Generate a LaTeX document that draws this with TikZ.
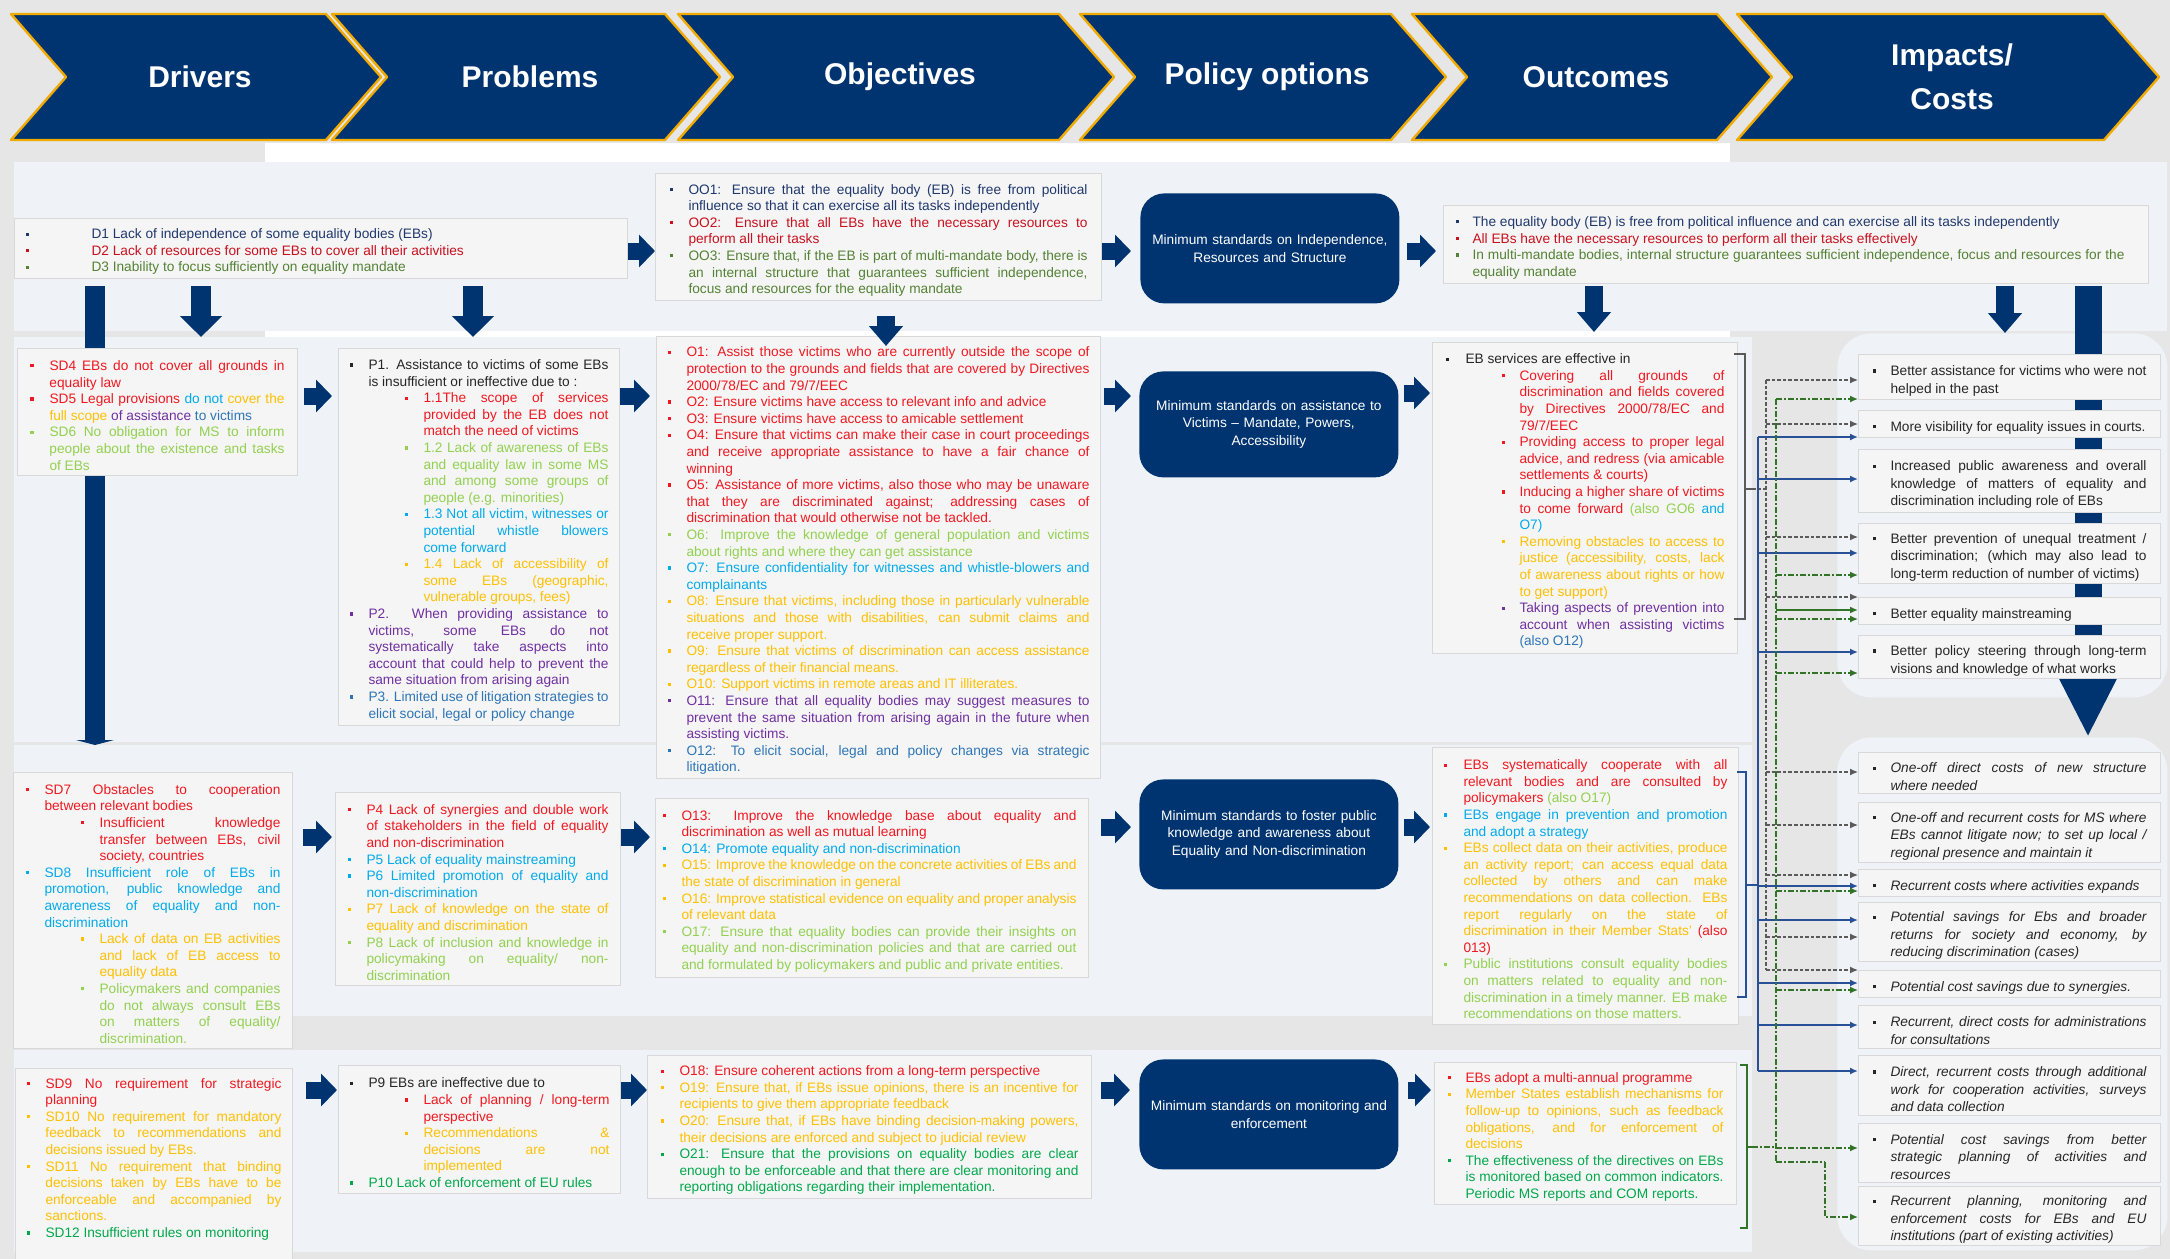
\documentclass[tikz,border=0pt]{standalone}
\usepackage{fontspec}
\setmainfont{Liberation Sans}
\usepackage{enumitem}
\usetikzlibrary{arrows.meta}

\definecolor{navy}{RGB}{0,52,112}
\definecolor{gold}{RGB}{240,170,0}
\definecolor{bggrey}{RGB}{230,230,230}
\definecolor{panelcol}{RGB}{239,243,248}
\definecolor{boxfill}{RGB}{245,245,245}
\definecolor{boxline}{RGB}{216,216,216}
\definecolor{txtgrey}{RGB}{38,38,38}
\definecolor{cDB}{RGB}{31,56,110}
\definecolor{cDR}{RGB}{200,16,30}
\definecolor{cOG}{RGB}{84,130,53}
\definecolor{cRed}{RGB}{240,24,32}
\definecolor{cLG}{RGB}{146,208,80}
\definecolor{cCy}{RGB}{0,170,235}
\definecolor{cGo}{RGB}{255,192,0}
\definecolor{cPu}{RGB}{112,48,160}
\definecolor{cMB}{RGB}{46,117,182}
\definecolor{cGr}{RGB}{0,168,75}
\definecolor{gline}{RGB}{90,90,90}
\definecolor{bline}{RGB}{40,80,150}
\definecolor{grline}{RGB}{50,115,40}

\newcommand\boxfont{\fontsize{6.85}{8.3}\selectfont}
\newcommand\polfont{\fontsize{6.85}{8.7}\selectfont}
\newcommand\impfont{\fontsize{6.85}{8.8}\selectfont}
\newcommand\bsq{\raisebox{0.22em}{\rule{1.6pt}{1.6pt}}}
\newcommand\bitem[2]{\item[\textcolor{#1}{\bsq}]\textcolor{#1}{#2}}
\newcommand\ib[1]{\begin{itemize}[leftmargin=9pt]\item #1\end{itemize}}
\setlist[itemize]{nosep, label=\bsq, labelindent=0pt, labelwidth=1.6pt, labelsep=*, align=left, leftmargin=9.5pt}
\hyphenpenalty=10000
\tolerance=9999
\hbadness=10000
\emergencystretch=1em

\tikzset{
  tbox/.style={draw=boxline, line width=0.5pt, fill=boxfill, anchor=north west,
    inner ysep=0pt, align=justify, font=\boxfont, text=txtgrey},
  polbox/.style={fill=navy, rounded corners=12pt, anchor=north west, inner sep=0pt,
    minimum width=129.5pt, minimum height=55pt, text width=125pt, align=center,
    font=\polfont, text=white},
  imp/.style={draw=boxline, line width=0.5pt, fill=boxfill, anchor=north west,
    inner xsep=7pt, inner ysep=0pt, text width=137pt, align=justify,
    font=\impfont, text=txtgrey},
  ipanel/.style={fill=panelcol, rounded corners=17pt, anchor=north west,
    inner sep=0pt, minimum width=165pt},
  chev/.style={fill=navy, draw=gold, line width=1.2pt, line join=round},
  chevtxt/.style={text=white, font=\fontsize{15}{22}\selectfont\bfseries, align=center},
  rarrow/.style={navy, line width=8.5pt, -{Triangle[length=8pt,width=16pt]}},
  darrow/.style={navy, line width=10pt, -{Triangle[length=10.5pt,width=20.5pt]}},
  sarrow/.style={navy, line width=9pt, -{Triangle[length=10pt,width=16.5pt]}},
  arr/.style={-{Latex[length=4pt,width=3.5pt]}},
  gdash/.style={draw=gline, line width=0.6pt, dash pattern=on 1.8pt off 1pt},
  bsolid/.style={draw=bline, line width=0.9pt},
  gdot/.style={draw=grline, line width=0.7pt, dash pattern=on 3pt off 1.2pt on 0.6pt off 1.2pt},
}

\begin{document}
\begin{tikzpicture}[x=0.5pt,y=-0.5pt]
\useasboundingbox (0,0) rectangle (2170,1259);
% background and panels
\fill[bggrey] (0,0) rectangle (2170,1259);
\fill[white] (265,143) rectangle (1730,162);
\fill[panelcol] (14,162) rectangle (2167,331);
\fill[white] (265,331) rectangle (1730,337);
\fill[panelcol] (14,337) rectangle (1752,742);
\fill[panelcol] (14,745) rectangle (1752,1016);
\fill[panelcol] (14,1050) rectangle (1752,1252);
\node[ipanel, minimum height=182pt] (ipan1) at (1837,333) {};
\node[ipanel, minimum height=256.5pt] (ipan2) at (1837,737) {};

% header chevrons
\foreach \xa/\xb/\lab [count=\i] in {11/381/Drivers, 332/720/Problems, 678/1114/Objectives,
    1080/1446/Policy options, 1412/1772/Outcomes, 1737/2159/{Impacts/\\Costs}}{
  \draw[chev] (\xa,14) -- ({\xb-55},14) -- (\xb,77) -- ({\xb-55},140) -- (\xa,140) -- ({\xa+55},77) -- cycle;
  \node[chevtxt] (h\i) at ({(\xa+\xb)/2+4},77) {\lab};
}

% row 1
\node[tbox, inner xsep=5.5pt, text width=295.5pt, minimum height=30pt] (bD) at (14,218) {%
  \begin{itemize}[leftmargin=33pt]
  \bitem{cDB}{D1 Lack of independence of some equality bodies (EBs)}
  \bitem{cDR}{D2 Lack of resources for some EBs to cover all their activities}
  \bitem{cOG}{D3 Inability to focus sufficiently on equality mandate}
  \end{itemize}};
\node[tbox, inner xsep=7pt, text width=209pt, minimum height=63.5pt] (bOO) at (655,173) {%
  \begin{itemize}
  \bitem{cDB}{OO1: Ensure that the equality body (EB) is free from political influence so that it can exercise all its tasks independently}
  \bitem{cDR}{OO2: Ensure that all EBs have the necessary resources to\linebreak perform all their tasks}
  \bitem{cOG}{OO3: Ensure that, if the EB is part of multi-mandate body, there is\linebreak an internal structure that guarantees sufficient independence, focus and resources for the equality mandate}
  \end{itemize}};
\node[polbox] (pol1) at (1140,193) {Minimum standards on Independence,\\Resources and Structure};
\node[tbox, inner xsep=6pt, text width=340.5pt, minimum height=39pt] (bOut1) at (1443,205) {%
  \begin{itemize}[leftmargin=8.5pt, rightmargin=6pt]
  \bitem{cDB}{The equality body (EB) is free from political influence and can exercise all its tasks independently}
  \bitem{cDR}{All EBs have the necessary resources to perform all their tasks effectively}
  \bitem{cOG}{In multi-mandate bodies, internal structure guarantees sufficient independence, focus and resources for the equality mandate}
  \end{itemize}};

% long bars behind the boxes
\coordinate (lb) at (95,745);
\coordinate (rb) at (2088,0);
\draw[navy, line width=10pt, -{Triangle[length=2.5pt,width=19pt]}, shorten <=3.5pt] (bD.south -| lb) -- (lb);
\draw[navy, line width=13.5pt, -{Triangle[length=29pt,width=26.5pt]}, shorten <=1pt] (bOut1.south -| rb) -- (ipan2.north -| rb);

% row 2
\node[tbox, inner xsep=6.5pt, text width=127pt, minimum height=63.5pt] (bSD4) at (17,348) {%
  \begin{itemize}
  \bitem{cRed}{SD4 EBs do not cover all grounds in equality law}
  \item[\textcolor{cRed}{\bsq}]\textcolor{cRed}{SD5 Legal provisions} \textcolor{cCy}{do not} \textcolor{cGo}{cover the full scope} \textcolor{cPu}{of assistance} \textcolor{cMB}{to victims}
  \bitem{cLG}{SD6 No obligation for MS to inform people about the existence and tasks of EBs}
  \end{itemize}};
\node[tbox, inner xsep=5.5pt, text width=129.5pt, minimum height=188.5pt] (bP) at (338,348) {%
  \begin{itemize}
  \bitem{txtgrey}{P1. Assistance to victims of some EBs is insufficient or ineffective due to :}
    \begin{itemize}[labelindent=18pt, leftmargin=27.5pt]
    \bitem{cRed}{1.1The scope of services provided by the EB does not match the need of victims}
    \bitem{cLG}{1.2 Lack of awareness of EBs and equality law in some MS and among some groups of people (e.g. minorities)}
    \bitem{cCy}{1.3 Not all victim, witnesses or\linebreak potential whistle blowers\linebreak come forward}
    \bitem{cGo}{1.4 Lack of accessibility of\linebreak some EBs (geographic, vulnerable groups, fees)}
    \end{itemize}
  \bitem{cPu}{P2. When providing assistance to\linebreak victims, some EBs do not\linebreak systematically take aspects into account that could help to prevent the same situation from arising again}
  \bitem{cMB}{P3. Limited use of litigation strategies to elicit social, legal or policy change}
  \end{itemize}};
\node[tbox, inner xsep=5.5pt, text width=211pt, minimum height=221pt] (bO) at (656,336) {%
  \begin{itemize}
  \bitem{cRed}{O1: Assist those victims who are currently outside the scope of protection to the grounds and fields that are covered by Directives 2000/78/EC and 79/7/EEC}
  \bitem{cRed}{O2: Ensure victims have access to relevant info and advice}
  \bitem{cRed}{O3: Ensure victims have access to amicable settlement}
  \bitem{cRed}{O4: Ensure that victims can make their case in court proceedings and receive appropriate assistance to have a fair chance of\linebreak winning}
  \bitem{cRed}{O5: Assistance of more victims, also those who may be unaware\linebreak that they are discriminated against; addressing cases of discrimination that would otherwise not be tackled.}
  \bitem{cLG}{O6: Improve the knowledge of general population and victims\linebreak about rights and where they can get assistance}
  \bitem{cCy}{O7: Ensure confidentiality for witnesses and whistle-blowers and complainants}
  \bitem{cGo}{O8: Ensure that victims, including those in particularly vulnerable situations and those with disabilities, can submit claims and\linebreak receive proper support.}
  \bitem{cGo}{O9: Ensure that victims of discrimination can access assistance regardless of their financial means.}
  \bitem{cGo}{O10: Support victims in remote areas and IT illiterates.}
  \bitem{cPu}{O11: Ensure that all equality bodies may suggest measures to prevent the same situation from arising again in the future when assisting victims.}
  \bitem{cMB}{O12: To elicit social, legal and policy changes via strategic\linebreak litigation.}
  \end{itemize}};
\node[polbox, minimum height=53pt] (pol2) at (1139,371) {Minimum standards on assistance to\\Victims -- Mandate, Powers,\\Accessibility};
\node[tbox, inner xsep=6.5pt, text width=139.5pt, minimum height=155.5pt] (bOut2) at (1432,342) {%
  \begin{itemize}[leftmargin=10pt]
  \bitem{txtgrey}{EB services are effective in}
    \begin{itemize}[labelindent=18pt, leftmargin=27pt]
    \bitem{cRed}{Covering all grounds of discrimination and fields covered by Directives 2000/78/EC and 79/7/EEC}
    \bitem{cRed}{Providing access to proper legal advice, and redress (via amicable settlements \& courts)}
    \item[\textcolor{cRed}{\bsq}]\textcolor{cRed}{Inducing a higher share of victims to come forward} \textcolor{cLG}{(also GO6} \textcolor{cCy}{and O7)}
    \bitem{cGo}{Removing obstacles to access to justice (accessibility, costs, lack\linebreak of awareness about rights or how\linebreak to get support)}
    \item[\textcolor{cPu}{\bsq}]\textcolor{cPu}{Taking aspects of prevention into account when assisting victims} \textcolor{cMB}{(also O12)}
    \end{itemize}
  \end{itemize}};

% row 3
\node[tbox, inner xsep=6pt, text width=127.5pt, minimum height=138pt] (bSD7) at (13,772) {%
  \begin{itemize}
  \bitem{cRed}{SD7 Obstacles to cooperation\linebreak between relevant bodies}
    \begin{itemize}[labelindent=18pt, leftmargin=27.5pt]
    \bitem{cRed}{Insufficient knowledge transfer between EBs, civil society, countries}
    \end{itemize}
  \bitem{cCy}{SD8 Insufficient role of EBs in promotion, public knowledge and awareness of equality and non-discrimination}
    \begin{itemize}[labelindent=18pt, leftmargin=27.5pt]
    \bitem{cGo}{Lack of data on EB activities and lack of EB access to equality data}
    \bitem{cLG}{Policymakers and companies do not always consult EBs on matters of equality/ discrimination.}
    \end{itemize}
  \end{itemize}};
\node[tbox, inner xsep=6pt, text width=130.5pt, minimum height=96.5pt] (bP4) at (335,792) {%
  \begin{itemize}
  \bitem{cRed}{P4 Lack of synergies and double work\linebreak of stakeholders in the field of equality and non-discrimination}
  \bitem{cCy}{P5 Lack of equality mainstreaming}
  \bitem{cCy}{P6 Limited promotion of equality and non-discrimination}
  \bitem{cGo}{P7 Lack of knowledge on the state of equality and discrimination}
  \bitem{cLG}{P8 Lack of inclusion and knowledge in\linebreak policymaking on equality/ non-discrimination}
  \end{itemize}};
\node[tbox, inner xsep=3.5pt, text width=209.5pt, minimum height=89.5pt] (bO13) at (655,798) {%
  \begin{itemize}[rightmargin=2.5pt]
  \bitem{cRed}{O13: Improve the knowledge base about equality and discrimination as well as mutual learning}
  \bitem{cCy}{O14: Promote equality and non-discrimination}
  \bitem{cGo}{O15: Improve the knowledge on the concrete activities of EBs and the state of discrimination in general}
  \bitem{cGo}{O16: Improve statistical evidence on equality and proper analysis of relevant data}
  \bitem{cLG}{O17: Ensure that equality bodies can provide their insights on equality and non-discrimination policies and that are carried out and formulated by policymakers and public and private entities.}
  \end{itemize}};
\node[polbox] (pol3) at (1139,779) {Minimum standards to foster public\\knowledge and awareness about\\Equality and Non-discrimination};
\node[tbox, inner xsep=5.5pt, text width=142pt, minimum height=138.5pt] (bOut3) at (1432,747) {%
  \begin{itemize}[leftmargin=10pt]
  \item[\textcolor{cRed}{\bsq}]\textcolor{cRed}{EBs systematically cooperate with all relevant bodies and are consulted by policymakers} \textcolor{cLG}{(also O17)}
  \bitem{cCy}{EBs engage in prevention and promotion and adopt a strategy}
  \item[\textcolor{cGo}{\bsq}]\textcolor{cGo}{EBs collect data on their activities, produce an activity report; can access equal data\linebreak collected by others and can make\linebreak recommendations on data collection. EBs\linebreak report regularly on the state of\linebreak discrimination in their Member Stats'} \textcolor{cRed}{(also\linebreak 013)}
  \bitem{cLG}{Public institutions consult equality bodies on matters related to equality and non-discrimination in a timely manner. EB make recommendations on those matters.}
  \end{itemize}};

% row 4
\node[tbox, inner xsep=5.5pt, text width=127.5pt, minimum height=95.5pt] (bSD9) at (15,1068) {%
  \begin{itemize}
  \bitem{cRed}{SD9 No requirement for strategic planning}
  \bitem{cGo}{SD10 No requirement for mandatory feedback to recommendations and decisions issued by EBs.}
  \bitem{cGo}{SD11 No requirement that binding decisions taken by EBs have to be enforceable and accompanied by sanctions.}
  \bitem{cGr}{SD12 Insufficient rules on monitoring}
  \end{itemize}\vspace*{8pt}};
\node[tbox, inner xsep=5.5pt, text width=130pt, minimum height=64pt] (bP9) at (338,1065) {%
  \begin{itemize}
  \bitem{txtgrey}{P9 EBs are ineffective due to}
    \begin{itemize}[labelindent=18pt, leftmargin=27.5pt]
    \bitem{cRed}{Lack of planning / long-term perspective}
    \bitem{cGo}{Recommendations \&\linebreak decisions are not\linebreak implemented}
    \end{itemize}
  \bitem{cGr}{P10 Lack of enforcement of EU rules}
  \end{itemize}};
\node[tbox, inner xsep=6.5pt, text width=209pt, minimum height=71.5pt] (bO18) at (647,1055) {%
  \begin{itemize}
  \bitem{cRed}{O18: Ensure coherent actions from a long-term perspective}
  \bitem{cGo}{O19: Ensure that, if EBs issue opinions, there is an incentive for recipients to give them appropriate feedback}
  \bitem{cGo}{O20: Ensure that, if EBs have binding decision-making powers, their decisions are enforced and subject to judicial review}
  \bitem{cGr}{O21: Ensure that the provisions on equality bodies are clear enough to be enforceable and that there are clear monitoring and reporting obligations regarding their implementation.}
  \end{itemize}};
\node[polbox] (pol4) at (1139,1059) {Minimum standards on monitoring and\\enforcement};
\node[tbox, inner xsep=6.5pt, text width=138pt, minimum height=71pt] (bOut4) at (1434,1062) {%
  \begin{itemize}[leftmargin=9pt]
  \bitem{cRed}{EBs adopt a multi-annual programme}
  \bitem{cGo}{Member States establish mechanisms for follow-up to opinions, such as feedback obligations, and for enforcement of decisions}
  \bitem{cGr}{The effectiveness of the directives on EBs is monitored based on common indicators. Periodic MS reports and COM reports.}
  \end{itemize}};

% impacts / costs
\node[imp, minimum height=22.5pt] (iA) at (1858,354) {\ib{Better assistance for victims who were not helped in the past}};
\node[imp, minimum height=13.5pt] (iB) at (1858,410) {\ib{More visibility for equality issues in courts.}};
\node[imp, minimum height=31.5pt] (iC) at (1858,449) {\ib{Increased public awareness and overall knowledge of matters of equality and discrimination including role of EBs}};
\node[imp, minimum height=30pt] (iD) at (1858,523) {\ib{Better prevention of unequal treatment / discrimination; (which may also lead to long-term reduction of number of victims)}};
\node[imp, minimum height=13.5pt] (iE) at (1858,597) {\ib{Better equality mainstreaming}};
\node[imp, minimum height=21.5pt] (iF) at (1858,635) {\ib{Better policy steering through long-term visions and knowledge of what works}};
\node[imp, minimum height=20.5pt] (iG) at (1858,752) {\ib{\itshape One-off direct costs of new structure\linebreak where needed}};
\node[imp, minimum height=30pt] (iH) at (1858,802) {\ib{\itshape One-off and recurrent costs for MS where EBs cannot litigate now; to set up local / regional presence and maintain it}};
\node[imp, minimum height=13.5pt] (iI) at (1858,869) {\ib{\itshape Recurrent costs where activities expands}};
\node[imp, minimum height=29.5pt] (iJ) at (1858,902) {\ib{\itshape Potential savings for Ebs and broader returns for society and economy, by reducing discrimination (cases)}};
\node[imp, minimum height=13.5pt] (iK) at (1858,970) {\ib{\itshape Potential cost savings due to synergies.}};
\node[imp, minimum height=21.5pt] (iL) at (1858,1005) {\ib{\itshape Recurrent, direct costs for administrations for consultations}};
\node[imp, minimum height=30pt] (iM) at (1858,1055) {\ib{\itshape Direct, recurrent costs through additional work for cooperation activities, surveys\linebreak and data collection}};
\node[imp, minimum height=29.5pt] (iN) at (1858,1123) {\ib{\itshape Potential cost savings from better\linebreak strategic planning of activities and\linebreak resources}};
\node[imp, minimum height=29.5pt] (iO) at (1858,1186) {\ib{\itshape Recurrent planning, monitoring and enforcement costs for EBs and EU institutions (part of existing activities)}};

% block arrows between columns
\coordinate (r1) at (0,251);
\coordinate (r2) at (0,396);
\coordinate (r2b) at (0,393);
\coordinate (r3) at (0,837);
\coordinate (r3b) at (0,827);
\coordinate (r4) at (0,1090);
\draw[rarrow] (bD.east |- r1) -- (bOO.west |- r1);
\draw[rarrow, shorten >=4.5pt] (bOO.east |- r1) -- (pol1.west |- r1);
\draw[rarrow, shorten <=3.5pt, shorten >=3.5pt] (pol1.east |- r1) -- (bOut1.west |- r1);
\draw[rarrow, shorten <=3pt, shorten >=3pt] (bSD4.east |- r2) -- (bP.west |- r2);
\draw[rarrow, shorten >=3pt] (bP.east |- r2) -- (bO.west |- r2);
\draw[rarrow, shorten <=1.5pt, shorten >=4pt] (bO.east |- r2) -- (pol2.west |- r2);
\draw[rarrow, shorten <=2.5pt, shorten >=1pt] (pol2.east |- r2b) -- (bOut2.west |- r2b);
\draw[rarrow, shorten <=5pt, shorten >=1.5pt] (bSD7.east |- r3) -- (bP4.west |- r3);
\draw[rarrow, shorten >=2.5pt] (bP4.east |- r3) -- (bO13.west |- r3);
\draw[rarrow, shorten <=6pt, shorten >=4pt] (bO13.east |- r3b) -- (pol3.west |- r3b);
\draw[rarrow, shorten <=2.5pt, shorten >=1pt] (pol3.east |- r3b) -- (bOut3.west |- r3b);
\draw[rarrow, shorten <=6.5pt, shorten >=0.5pt] (bSD9.east |- r4) -- (bP9.west |- r4);
\draw[rarrow] (bP9.east |- r4) -- (bO18.west |- r4);
\draw[rarrow, shorten <=4.5pt, shorten >=4.5pt] (bO18.east |- r4) -- (pol4.west |- r4);
\draw[rarrow, shorten <=4.5pt, shorten >=1.5pt] (pol4.east |- r4) -- (bOut4.west |- r4);

% downward arrows
\coordinate (c1) at (201,0);
\coordinate (c2) at (473,0);
\coordinate (c3) at (886,0);
\coordinate (c4) at (1594,0);
\coordinate (c5) at (2005,0);
\draw[darrow, shorten <=3.5pt, shorten >=5.5pt] (bD.south -| c1) -- (bSD4.north -| c1);
\draw[darrow, shorten <=3.5pt, shorten >=5.5pt] (bD.south -| c2) -- (bP.north -| c2);
\draw[sarrow, shorten <=7.5pt, shorten >=-5pt] (bOO.south -| c3) -- (bO.north -| c3);
\draw[sarrow, shorten <=1pt, shorten >=5pt] (bOut1.south -| c4) -- (bOut2.north -| c4);
\draw[sarrow, shorten <=1pt] (bOut1.south -| c5) -- (ipan1.north -| c5);

% brackets of the outcomes
\draw[gline, line width=0.6pt] (1734,354) -- (1745,354) -- (1745,619) -- (1734,619) (1745,489) -- (1752,489);
\draw[bline, line width=0.6pt] (1737,772) -- (1746,772) -- (1746,997) -- (1737,997) (1746,885) -- (1752,885);
\draw[grline, line width=0.6pt] (1740,1065) -- (1747,1065) -- (1747,1228) -- (1740,1228) (1747,1147) -- (1752,1147);
\coordinate (br2) at (1752,489);
\coordinate (br3) at (1752,885);
\coordinate (br4) at (1752,1147);
\coordinate (tB) at (1758,0);
\coordinate (tG) at (1766,0);
\coordinate (tN) at (1776,0);

% links outcomes -> impacts
\draw[gdash] (br2) -- (br2 -| tG);
\draw[gdash] (tG |- 0,380) -- (tG |- 0,970);
\foreach \dst/\y in {iA/380, iB/424, iD/537, iE/597, iG/772, iH/825, iI/875, iJ/937, iK/970}
  \draw[gdash, arr] (tG |- 0,\y) -- (\dst.west |- 0,\y);
\draw[bsolid] (br3) -- (br3 -| tB);
\draw[bsolid] (tB |- 0,437) -- (tB |- 0,1071);
\foreach \dst/\y in {iB/437, iC/479, iD/553, iF/652, iI/886, iJ/920, iK/983, iL/1025, iM/1071}
  \draw[bsolid, arr] (tB |- 0,\y) -- (\dst.west |- 0,\y);
\draw[gdot] (br4) -- (br4 -| tN);
\draw[gdot] (tN |- 0,399) -- (tN |- 0,1162);
\foreach \dst/\y in {iA/399, iD/575, iE/619, iF/673, iI/891, iK/990, iN/1148}
  \draw[gdot, arr] (tN |- 0,\y) -- (\dst.west |- 0,\y);
\draw[grline, line width=1.3pt, arr] (tN |- 0,610) -- (iE.west |- 0,610);
\coordinate (oc) at (1825,1162);
\draw[gdot] (tN |- oc) -- (oc);
\draw[gdot, arr] (oc) |- (iO.west |- 0,1217);
\end{tikzpicture}
\end{document}
